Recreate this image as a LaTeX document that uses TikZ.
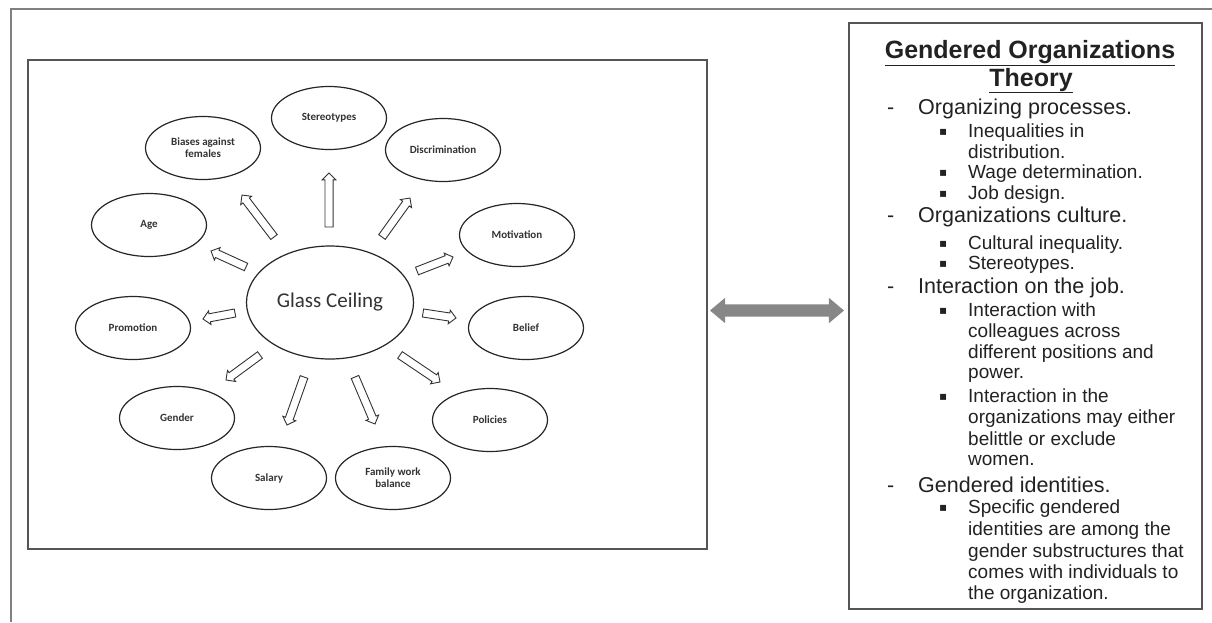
\documentclass[tikz,border=0pt]{standalone}
\usepackage{fontspec}
\setmainfont{Liberation Sans}
\newfontfamily\carlito{Carlito}
\newfontfamily\dejavu{DejaVu Sans}
\usetikzlibrary{shapes.geometric,shapes.arrows,calc}
\definecolor{frame}{HTML}{808080}
\definecolor{boxline}{HTML}{555555}
\definecolor{txt}{HTML}{222222}
\definecolor{dblarrow}{HTML}{878787}
\tikzset{
  bubble/.style={ellipse, draw=black!85, line width=1.2pt, minimum width=115pt, minimum height=63pt,
    inner sep=0pt, font=\carlito\bfseries\fontsize{11}{12}\selectfont, align=center, text=black!80},
  harrow/.style={single arrow, draw=black!80, line width=0.9pt, fill=white, inner xsep=0pt,
    inner ysep=3.6pt, single arrow head extend=2.8pt, single arrow tip angle=90, outer sep=0pt},
  dbl/.style={double arrow, fill=dblarrow, draw=none, inner xsep=0pt, inner ysep=6pt,
    double arrow head extend=6.5pt, double arrow tip angle=80, outer sep=0pt},
  ttl/.style={anchor=base, font=\bfseries\fontsize{25}{25}\selectfont, text=txt, inner sep=0pt},
  lone/.style={anchor=base west, font=\fontsize{21.5}{21.5}\selectfont, text=txt, inner sep=0pt},
  ltwo/.style={anchor=base west, font=\fontsize{19}{19}\selectfont, text=txt, inner sep=0pt},
  bul/.style={anchor=base west, font=\dejavu\fontsize{12}{12}\selectfont, text=txt, inner sep=0pt},
}
\newcommand\hollow[3]{%
  \path let \p1=(#2), \p2=(#3), \n1={atan2(\y2-\y1,\x2-\x1)}, \n2={veclen(\x2-\x1,\y2-\y1)} in
  node[harrow, minimum height=\n2, rotate=\n1, anchor=tail] (#1) at (\p1) {};}
\begin{document}
\begin{tikzpicture}[x=1pt,y=-1pt]
\useasboundingbox (0,0) rectangle (1212,622);
\fill[white] (0,0) rectangle (1212,622);
% outer frame
\draw[frame, line width=1.4pt] (11,622) -- (11,9) -- (1212,9);
% boxes
\node[draw=boxline, line width=1.5pt, minimum width=679pt, minimum height=489pt, inner sep=0pt, anchor=north west] (leftbox) at (27,59) {};
\node[draw=boxline, line width=1.5pt, minimum width=353pt, minimum height=586pt, inner sep=0pt, anchor=north west] (rightbox) at (848,22) {};
% ellipses
\node[bubble, minimum width=167pt, minimum height=113pt, font=\carlito\fontsize{21}{24}\selectfont] (gc) at (330,302.5) {Glass Ceiling};
\node[bubble] (st) at (329,118) {Stereotypes};
\node[bubble] (bi) at (203,148) {Biases against\\females};
\node[bubble] (ag) at (149,225) {Age};
\node[bubble] (di) at (443,150) {Discrimination};
\node[bubble] (mo) at (517,235) {Motivation};
\node[bubble] (pr) at (133,328) {Promotion};
\node[bubble] (be) at (526,328) {Belief};
\node[bubble] (ge) at (177,418) {Gender};
\node[bubble] (po) at (490,420) {Policies};
\node[bubble] (sa) at (269,478) {Salary};
\node[bubble] (fa) at (393,478) {Family work\\balance};
% arrow end points
\coordinate (t1) at (329,227); \coordinate (h1) at (329,173);
\coordinate (t2) at (274,237); \coordinate (h2) at (242,195);
\coordinate (t3) at (246,267); \coordinate (h3) at (211,251);
\coordinate (t4) at (382,237); \coordinate (h4) at (410,198);
\coordinate (t5) at (417,271); \coordinate (h5) at (453,257);
\coordinate (t6) at (423,313); \coordinate (h6) at (456,318);
\coordinate (t7) at (400,355); \coordinate (h7) at (440,382);
\coordinate (t8) at (235,313); \coordinate (h8) at (203,319);
\coordinate (t9) at (260,355); \coordinate (h9) at (226,380);
\coordinate (t10) at (304,377); \coordinate (h10) at (287,425);
\coordinate (t11) at (355,377); \coordinate (h11) at (375,424);
\hollow{a1}{t1}{h1}
\hollow{a2}{t2}{h2}
\hollow{a3}{t3}{h3}
\hollow{a4}{t4}{h4}
\hollow{a5}{t5}{h5}
\hollow{a6}{t6}{h6}
\hollow{a7}{t7}{h7}
\hollow{a8}{t8}{h8}
\hollow{a9}{t9}{h9}
\hollow{a10}{t10}{h10}
\hollow{a11}{t11}{h11}
% double arrow
\coordinate (la) at (710,310.5);
\coordinate (lb) at (844,310.5);
\node[dbl, minimum height=134pt] (link) at ($(la)!0.5!(lb)$) {};
% right panel text
\node[ttl] (title1) at (1030,58) {\underline{Gendered Organizations}};
\node[ttl] (title2) at (1031,86) {\underline{Theory}};
\node[lone] (d1) at (887,114) {-};
\node[lone] (o1) at (918,114) {Organizing processes.};
\node[bul] (b1) at (939,135) {▪};
\node[ltwo] (i1) at (968,137) {Inequalities in};
\node[ltwo] (i1b) at (968,158) {distribution.};
\node[bul] (b2) at (939,176) {▪};
\node[ltwo] (i2) at (968,178) {Wage determination.};
\node[bul] (b3) at (939,197) {▪};
\node[ltwo] (i3) at (968,199) {Job design.};
\node[lone] (d2) at (887,222) {-};
\node[lone] (o2) at (918,222) {Organizations culture.};
\node[bul] (b4) at (939,247) {▪};
\node[ltwo] (i4) at (968,249) {Cultural inequality.};
\node[bul] (b5) at (939,267) {▪};
\node[ltwo] (i5) at (968,269) {Stereotypes.};
\node[lone] (d3) at (887,293) {-};
\node[lone] (o3) at (918,293) {Interaction on the job.};
\node[bul] (b6) at (939,314) {▪};
\node[ltwo] (i6) at (968,316) {Interaction with};
\node[ltwo] (i6b) at (968,337) {colleagues across};
\node[ltwo] (i6c) at (968,358) {different positions and};
\node[ltwo] (i6d) at (968,378) {power.};
\node[bul] (b7) at (939,400) {▪};
\node[ltwo] (i7) at (968,402) {Interaction in the};
\node[ltwo] (i7b) at (968,423) {organizations may either};
\node[ltwo] (i7c) at (968,445) {belittle or exclude};
\node[ltwo] (i7d) at (968,465) {women.};
\node[lone] (d4) at (887,492) {-};
\node[lone] (o4) at (918,492) {Gendered identities.};
\node[bul] (b8) at (939,511) {▪};
\node[ltwo] (i8) at (968,513) {Specific gendered};
\node[ltwo] (i8b) at (968,535) {identities are among the};
\node[ltwo] (i8c) at (968,557) {gender substructures that};
\node[ltwo] (i8d) at (968,578) {comes with individuals to};
\node[ltwo] (i8e) at (968,599) {the organization.};
\end{tikzpicture}
\end{document}
